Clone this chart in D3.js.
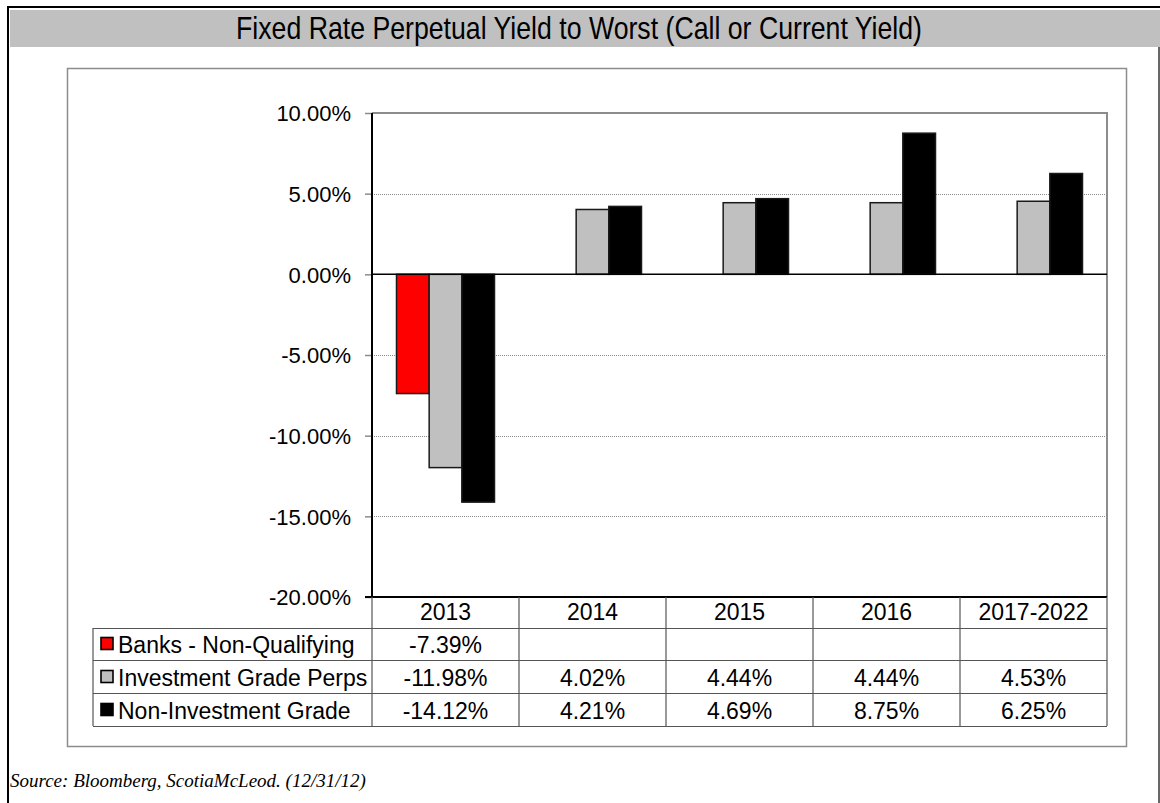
<!DOCTYPE html>
<html>
<head>
<meta charset="utf-8">
<script src="https://cdn.jsdelivr.net/npm/d3@7"></script>
<style>
html,body{margin:0;padding:0;background:#fff;}
svg{display:block;}
</style>
</head>
<body>
<div id="chart"></div>
<script>
// data
const categories = ["2013", "2014", "2015", "2016", "2017-2022"];
const seriesNames = ["Banks - Non-Qualifying", "Investment Grade Perps", "Non-Investment Grade"];
const banksNonQual = [-7.39, null, null, null, null];
const invGradePerps = [-11.98, 4.02, 4.44, 4.44, 4.53];
const nonInvGrade = [-14.12, 4.21, 4.69, 8.75, 6.25];
const yTicks = [10, 5, 0, -5, -10, -15, -20];
const seriesColors = ["#ff0000", "#c0c0c0", "#000000"];

const W = 1160, H = 803;
const plot = {left: 372, right: 1107, top: 113, bottom: 597};
const rowH = 33;

// plain hyphen for negatives, like the original
const pct = d => d3.format(".2f")(d).replace("\u2212", "-") + "%";

const svg = d3.select("#chart").append("svg")
  .attr("width", W).attr("height", H);

// outer frame + title band
svg.append("line").attr("x1", 8).attr("x2", 8).attr("y1", 6).attr("y2", H)
  .attr("stroke", "#000").attr("stroke-width", 2);
svg.append("line").attr("x1", 7).attr("x2", W).attr("y1", 7).attr("y2", 7)
  .attr("stroke", "#000").attr("stroke-width", 2);
svg.append("line").attr("x1", 1159).attr("x2", 1159).attr("y1", 47).attr("y2", H)
  .attr("stroke", "#333").attr("stroke-width", 1.5);
svg.append("rect").attr("x", 10).attr("y", 10).attr("width", W - 10).attr("height", 37)
  .attr("fill", "#c0c0c0");
svg.append("text")
  .attr("x", 579).attr("y", 39)
  .attr("text-anchor", "middle")
  .attr("font-family", "'Liberation Sans Narrow', 'Arial Narrow', 'Liberation Sans', Arial, sans-serif")
  .attr("font-size", 32)
  .attr("textLength", 686).attr("lengthAdjust", "spacingAndGlyphs")
  .attr("fill", "#000")
  .text("Fixed Rate Perpetual Yield to Worst (Call or Current Yield)");

// chart frame
svg.append("rect").attr("x", 67.5).attr("y", 68.5).attr("width", 1059).attr("height", 678)
  .attr("fill", "#fff").attr("stroke", "#8c8c8c").attr("stroke-width", 1.5);

// scales
const x = d3.scaleBand().domain(categories).range([plot.left, plot.right]);
const y = d3.scaleLinear().domain([-20, 10]).range([plot.bottom, plot.top]);
const slot = d3.scaleBand().domain(d3.range(seriesNames.length))
  .range([0, x.bandwidth()]).paddingOuter(0.75).paddingInner(0);

const font = "'Liberation Sans', Arial, sans-serif";

// gridlines
svg.append("g").selectAll("line")
  .data(yTicks.filter(d => d !== 0 && d !== 10 && d !== -20))
  .join("line")
  .attr("x1", plot.left).attr("x2", plot.right)
  .attr("y1", d => Math.round(y(d)) + 0.5).attr("y2", d => Math.round(y(d)) + 0.5)
  .attr("stroke", "#8a8a8a").attr("stroke-width", 1).attr("stroke-dasharray", "1,1");

// plot border top/right
svg.append("path")
  .attr("d", `M${plot.left},${plot.top}H${plot.right}V${plot.bottom}`)
  .attr("fill", "none").attr("stroke", "#8c8c8c").attr("stroke-width", 2);

// y axis
const yAxis = d3.axisLeft(y).tickValues(yTicks)
  .tickFormat(pct)
  .tickSize(7).tickPadding(14);
const ga = svg.append("g").attr("transform", `translate(${plot.left},0)`).call(yAxis);
ga.select(".domain").remove();
ga.selectAll(".tick line").attr("stroke", "#8c8c8c").attr("stroke-width", 1.5);
ga.selectAll(".tick text").attr("font-family", font).attr("font-size", 22)
  .attr("fill", "#000").attr("dy", "0.35em");

// bars
const series = [banksNonQual, invGradePerps, nonInvGrade];
series.forEach((vals, si) => {
  svg.append("g").selectAll("rect")
    .data(vals.map((v, i) => ({cat: categories[i], v: v})).filter(d => d.v !== null))
    .join("rect")
    .attr("x", d => x(d.cat) + slot(si))
    .attr("width", slot.bandwidth())
    .attr("y", d => y(Math.max(0, d.v)))
    .attr("height", d => Math.abs(y(d.v) - y(0)))
    .attr("fill", seriesColors[si])
    .attr("stroke", "#1a1a1a").attr("stroke-width", 1.5);
});

// zero line, left axis line, bottom line
svg.append("line").attr("x1", plot.left).attr("x2", plot.right)
  .attr("y1", y(0)).attr("y2", y(0)).attr("stroke", "#000").attr("stroke-width", 1.5);
svg.append("line").attr("x1", plot.left).attr("x2", plot.left)
  .attr("y1", plot.top).attr("y2", plot.bottom).attr("stroke", "#000").attr("stroke-width", 2);
svg.append("line").attr("x1", plot.left - 7).attr("x2", plot.right)
  .attr("y1", plot.bottom).attr("y2", plot.bottom).attr("stroke", "#000").attr("stroke-width", 2);

// data table
const tbl = svg.append("g");
const tLeft = 93, tTop = plot.bottom;
const lineCol = "#555";
const tFont = 23;
const colEdges = categories.map(c => x(c)).concat([plot.right]);
colEdges.forEach(cx => {
  tbl.append("line").attr("x1", cx).attr("x2", cx)
    .attr("y1", tTop).attr("y2", tTop + rowH * 4 - 3)
    .attr("stroke", lineCol).attr("stroke-width", 1.2);
});
tbl.append("line").attr("x1", tLeft).attr("x2", tLeft)
  .attr("y1", tTop + rowH - 2).attr("y2", tTop + rowH * 4 - 3)
  .attr("stroke", lineCol).attr("stroke-width", 1.2);
[1, 2, 3, 4].forEach(r => {
  const ry = tTop + rowH * r - (r === 1 ? 2 : 3) + 0.5;
  tbl.append("line").attr("x1", tLeft).attr("x2", plot.right)
    .attr("y1", ry).attr("y2", ry)
    .attr("stroke", lineCol).attr("stroke-width", 1.2);
});
// header labels
tbl.selectAll("text.hdr").data(categories).join("text")
  .attr("class", "hdr")
  .attr("x", d => x(d) + x.bandwidth() / 2)
  .attr("y", tTop + 23)
  .attr("text-anchor", "middle")
  .attr("font-family", font).attr("font-size", tFont).attr("fill", "#000")
  .text(d => d);
// rows
series.forEach((vals, si) => {
  const cy = tTop + rowH * (si + 1) - 2 + rowH / 2;
  tbl.append("rect").attr("x", 101).attr("y", cy - 7).attr("width", 12).attr("height", 12)
    .attr("fill", seriesColors[si]).attr("stroke", "#000").attr("stroke-width", 1.6);
  tbl.append("text").attr("x", 118).attr("y", cy + 8)
    .attr("font-family", font).attr("font-size", tFont).attr("fill", "#000")
    .text(seriesNames[si]);
  tbl.append("g").selectAll("text")
    .data(vals.map((v, i) => ({cat: categories[i], v: v})).filter(d => d.v !== null))
    .join("text")
    .attr("x", d => x(d.cat) + x.bandwidth() / 2)
    .attr("y", cy + 8)
    .attr("text-anchor", "middle")
    .attr("font-family", font).attr("font-size", tFont).attr("fill", "#000")
    .text(d => pct(d.v));
});

// source note
svg.append("text").attr("x", 10).attr("y", 787)
  .attr("font-family", "'Liberation Serif', 'Times New Roman', serif")
  .attr("font-style", "italic").attr("font-size", 19).attr("fill", "#000")
  .text("Source: Bloomberg, ScotiaMcLeod. (12/31/12)");
</script>
</body>
</html>
